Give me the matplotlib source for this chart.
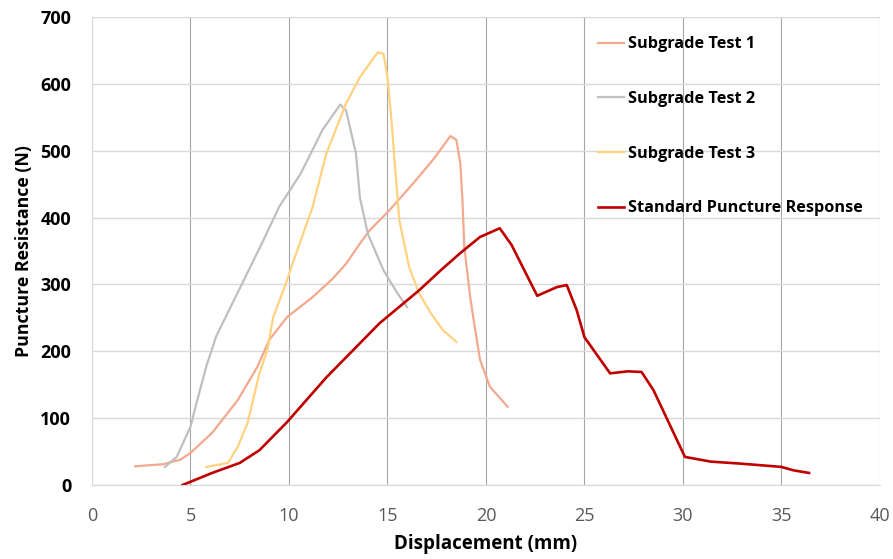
import matplotlib
matplotlib.use("Agg")
import matplotlib.pyplot as plt

# ===== data =====
test1_x = [2.2, 3.6, 4.5, 5.0, 6.1, 7.4, 8.4, 9.0, 9.9, 11.2, 12.2, 12.9, 13.6, 14.1,
           15.1, 16.3, 17.3, 18.2, 18.5, 18.7, 18.8, 18.9, 19.2, 19.4, 19.7, 20.2, 21.1]
test1_y = [28, 31, 38, 48, 78, 127, 177, 217, 251, 281, 308, 331, 361, 381,
           411, 451, 486, 522, 516, 480, 430, 356, 281, 242, 187, 147, 117]

test2_x = [3.7, 4.3, 5.0, 5.3, 5.8, 6.3, 6.9, 7.7, 8.7, 9.5, 10.6, 11.7, 12.6,
           12.9, 13.4, 13.6, 14.0, 14.8, 15.5, 16.0]
test2_y = [27, 42, 87, 122, 177, 222, 258, 306, 366, 416, 466, 531, 569,
           560, 496, 430, 376, 321, 287, 266]

test3_x = [5.8, 6.9, 7.4, 7.9, 8.5, 8.9, 9.2, 9.9, 10.1, 10.6, 11.2, 11.9, 12.9,
           13.6, 14.5, 14.8, 15.0, 15.2, 15.4, 15.6, 16.1, 16.6, 17.2, 17.8, 18.5]
test3_y = [27, 33, 57, 93, 167, 202, 251, 306, 324, 366, 416, 496, 571,
           610, 647, 645, 610, 546, 471, 396, 326, 287, 257, 232, 214]

std_x = [4.6, 6.1, 7.5, 8.5, 9.9, 11.9, 13.6, 14.6, 16.6, 17.7, 18.7, 19.7, 20.7,
         21.3, 22.6, 23.6, 24.1, 24.6, 25.0, 26.3, 27.2, 27.9, 28.5, 30.1, 31.4,
         32.9, 34.6, 35.0, 35.6, 36.4]
std_y = [0, 18, 33, 52, 94, 161, 212, 242, 291, 321, 347, 371, 384,
         359, 283, 296, 299, 262, 221, 167, 170, 169, 142, 42, 35,
         32, 28, 27, 22, 18]

labels = ["Subgrade Test 1", "Subgrade Test 2", "Subgrade Test 3",
          "Standard Puncture Response"]
colors = ["#F4A98E", "#BFBFBF", "#FFD27F", "#C00000"]

x_ticks = [0, 5, 10, 15, 20, 25, 30, 35, 40]
y_ticks = [0, 100, 200, 300, 400, 500, 600, 700]

plt.rcParams["font.family"] = ["Open Sans", "DejaVu Sans"]

fig = plt.figure(figsize=(8.93, 5.59), dpi=100)
ax = fig.add_axes([0.103, 0.1324, 0.8824, 0.8372])

series = [(test1_x, test1_y), (test2_x, test2_y), (test3_x, test3_y), (std_x, std_y)]
for (xs, ys), lab, col in zip(series, labels, colors):
    lw = 1.9 if col == "#C00000" else 1.6
    ax.plot(xs, ys, color=col, lw=lw, label=lab, solid_joinstyle="round")

ax.set_xlim(0, 40)
ax.set_ylim(0, 700)
ax.set_xticks(x_ticks)
ax.set_yticks(y_ticks)
ax.tick_params(axis="y", length=0, pad=15)
ax.tick_params(axis="x", length=0, pad=16)
for t in ax.get_yticklabels():
    t.set_fontsize(13)
    t.set_fontweight("bold")
for t in ax.get_xticklabels():
    t.set_fontsize(13)
    t.set_color("#595959")

ax.grid(axis="y", color="#D9D9D9", lw=1)
ax.grid(axis="x", color="#A6A6A6", lw=0.8)
ax.set_axisbelow(True)
for s in ["top", "right"]:
    ax.spines[s].set_visible(False)
ax.spines["left"].set_color("#D9D9D9")
ax.spines["bottom"].set_color("#D9D9D9")

ax.set_xlabel("Displacement (mm)", fontsize=13.5, fontweight="bold", labelpad=6)
ax.set_ylabel("Puncture Resistance (N)", fontsize=12.8, fontweight="bold", labelpad=5)

leg = ax.legend(loc="upper left", bbox_to_anchor=(0.623, 0.99), frameon=False,
                prop={"size": 11.7, "weight": "bold"}, labelspacing=2.38,
                handlelength=1.65, handletextpad=0.2)

fig.savefig("out.png", dpi=100)
